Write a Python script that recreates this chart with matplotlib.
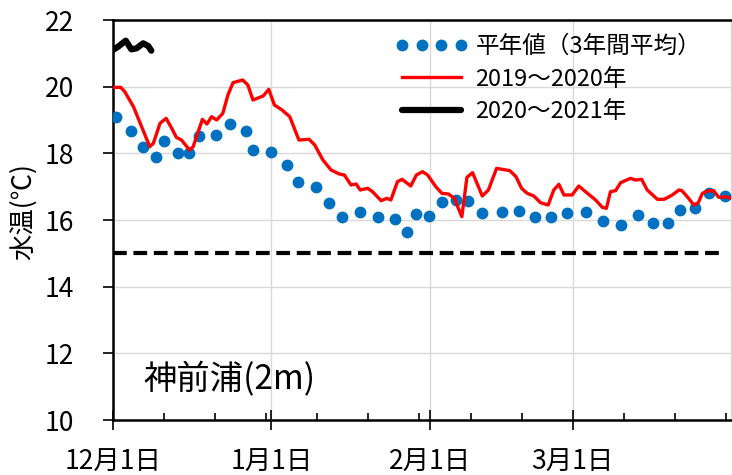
import matplotlib
matplotlib.use('Agg')
import matplotlib.pyplot as plt

plt.rcParams['font.family'] = ['Noto Sans CJK JP', 'DejaVu Sans']

# 日数は12月1日からの経過日
tick_days = [0, 31, 62, 90]
tick_labels = ['12月1日', '1月1日', '2月1日', '3月1日']

# 平年値(3年間平均)
avg_days = [0.5, 3.5, 5.9, 8.5, 10, 12.8, 14.9, 16.8, 20.1, 23, 26.1, 27.5, 30.9, 34, 36.3,
            39.8, 42.2, 44.9, 48.4, 51.8, 55.2, 57.5, 59.3, 61.9, 64.4, 67.1, 69.5, 72.3,
            76.2, 79.5, 82.7, 85.7, 88.8, 92.7, 95.9, 99.4, 102.8, 105.7, 108.7, 111.1,
            114, 116.7, 119.8]
avg_temp = [19.08, 18.67, 18.2, 17.9, 18.38, 18.0, 18.0, 18.52, 18.55, 18.88, 18.68, 18.1,
            18.03, 17.65, 17.15, 17.0, 16.52, 16.08, 16.25, 16.08, 16.03, 15.65, 16.17,
            16.13, 16.55, 16.6, 16.57, 16.22, 16.25, 16.28, 16.08, 16.08, 16.2, 16.24,
            15.97, 15.84, 16.16, 15.9, 15.9, 16.3, 16.35, 16.82, 16.72]

# 2019～2020年
y19_days = [0, 1.5, 2.3, 4, 5.6, 7.2, 7.9, 9.2, 10.4, 11.5, 12.4, 13.4, 15, 15.7, 17.5,
            18.4, 19.3, 20.3, 21.5, 22.5, 23.5, 25.4, 26.4, 27.4, 29.4, 30.5, 31.6, 33.1,
            34.6, 36.4, 38.4, 39.5, 41.1, 42.7, 44.3, 45.3, 46.6, 47.6, 48.4, 49.9, 50.8,
            52.5, 53.6, 54.4, 55.7, 56.6, 58.3, 59.4, 60.6, 61.6, 63.2, 64.4, 65.7, 66.8,
            68.3, 69.3, 70.4, 72.3, 73.5, 75.1, 76.2, 77.7, 78.9, 80, 81.1, 82.4, 83.7,
            85.2, 86.3, 87.3, 88.3, 89.9, 91.2, 92.5, 94.5, 95.8, 96.6, 97.4, 98.4, 99.4,
            101.3, 102.3, 103.5, 104.6, 106.6, 107.9, 109.5, 110.8, 111.4, 112.7, 113.7,
            114.6, 115.4, 116.6, 117.6, 118.6, 119.9, 121]
y19_temp = [19.98, 19.98, 19.85, 19.4, 18.8, 18.2, 18.3, 18.9, 19.05, 18.75, 18.48, 18.4,
            18.1, 18.2, 19.02, 18.88, 19.1, 19.0, 19.2, 19.75, 20.12, 20.2, 20.05, 19.6,
            19.72, 19.92, 19.45, 19.3, 19.1, 18.4, 18.42, 18.25, 17.8, 17.5, 17.38, 17.35,
            17.05, 17.08, 16.9, 16.95, 16.85, 16.58, 16.65, 16.6, 17.15, 17.22, 17.02,
            17.35, 17.45, 17.35, 17.0, 16.8, 16.78, 16.65, 16.1, 17.28, 17.42, 16.72, 16.9,
            17.55, 17.52, 17.48, 17.3, 16.95, 16.8, 16.72, 16.52, 16.45, 16.9, 17.07,
            16.75, 16.75, 17.02, 16.85, 16.6, 16.38, 16.35, 16.85, 16.88, 17.12, 17.25,
            17.2, 17.22, 16.9, 16.62, 16.62, 16.75, 16.9, 16.88, 16.65, 16.45, 16.52, 16.8,
            16.88, 16.88, 16.68, 16.7, 16.65]

# 2020～2021年
y20_days = [0, 1, 2.5, 3.6, 4.6, 5.9, 6.9, 7.5]
y20_temp = [21.1, 21.2, 21.38, 21.12, 21.15, 21.3, 21.22, 21.08]

# 15℃の線
ref_days = [0, 119.5]
ref_temp = [15, 15]

fig = plt.figure(figsize=(7.32, 4.75), dpi=100)
ax = fig.add_axes([113 / 732, 1 - 420 / 475, 618 / 732, 400 / 475])

ax.plot(ref_days, ref_temp, color='black', lw=3, dashes=(3.3, 1.6), zorder=2)
ax.plot(avg_days, avg_temp, 'o', color='#0070C0', ms=8.5, mec='none', label='平年値（3年間平均）', zorder=3)
ax.plot(y19_days, y19_temp, color='#FF0000', lw=2.4, label='2019～2020年', zorder=4)
ax.plot(y20_days, y20_temp, color='black', lw=4.5, solid_capstyle='round', label='2020～2021年', zorder=5)

ax.set_xlim(0, 121)
ax.set_ylim(10, 22)
ax.set_yticks(range(10, 23, 2))
ax.set_xticks(tick_days)
ax.set_xticklabels(tick_labels)
ax.set_xticks(range(0, 121, 10), minor=True)

ax.grid(True, color='#D9D9D9', lw=1)
ax.set_axisbelow(True)

for s in ['left', 'bottom', 'top']:
    ax.spines[s].set_linewidth(1.8)
ax.spines['right'].set_color('#D9D9D9')
ax.spines['right'].set_linewidth(1)

ax.tick_params(axis='y', direction='out', length=7, width=1.2, labelsize=19, pad=21)
ax.tick_params(axis='x', which='major', direction='inout', length=14, width=1.2, labelsize=19, pad=14)
ax.tick_params(axis='x', which='minor', direction='in', length=5, width=1.2)

ax.set_ylabel('水温(℃)', fontsize=19)
ax.yaxis.set_label_coords(-0.123, 0.52)

ax.text(0.0485, 0.1, '神前浦(2m)', transform=ax.transAxes, fontsize=24, ha='left', va='center')

ax.legend(loc='upper left', bbox_to_anchor=((395 - 113) / 618, 0.962), frameon=False,
          fontsize=17, numpoints=4, handlelength=3.1, handletextpad=0.3,
          labelspacing=0.4, borderpad=0, borderaxespad=0)

fig.savefig('out.png', dpi=100)
